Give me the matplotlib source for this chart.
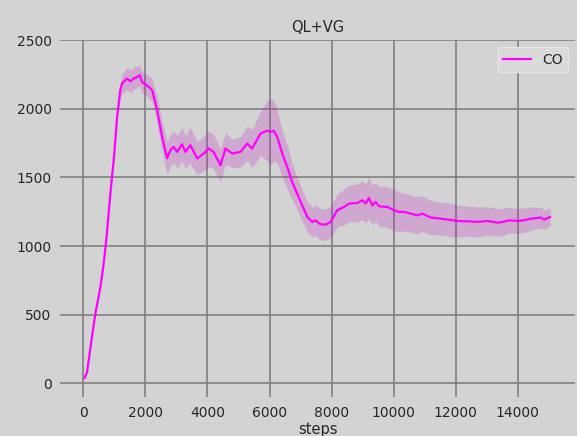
import numpy as np
import matplotlib
matplotlib.use('Agg')
import matplotlib.pyplot as plt

# mean curve and spread
steps = [40, 120, 280, 390, 550, 655, 760, 870, 980, 1090, 1190, 1250, 1410,
         1520, 1620, 1720, 1820, 1890, 2050, 2220, 2380, 2540, 2700, 2810,
         2910, 3020, 3180, 3290, 3450, 3670, 3880, 4040, 4200, 4420, 4580,
         4800, 5060, 5280, 5440, 5710, 5920, 6030, 6140, 6250, 6410, 6570,
         6730, 6890, 7050, 7220, 7380, 7480, 7640, 7810, 7970, 8180, 8400,
         8560, 8830, 8990, 9100, 9200, 9310, 9420, 9530, 9800, 10010, 10170,
         10330, 10550, 10760, 10920, 11190, 11520, 11840, 12050, 12380, 12700,
         13020, 13350, 13510, 13720, 13990, 14200, 14420, 14740, 14850, 15040]
co_mean = [40, 80, 340, 510, 700, 870, 1090, 1380, 1625, 1940, 2135, 2185, 2220,
           2200, 2220, 2230, 2245, 2195, 2170, 2135, 1990, 1795, 1640, 1700,
           1722, 1686, 1742, 1686, 1735, 1638, 1674, 1711, 1686, 1589, 1711,
           1674, 1686, 1747, 1711, 1820, 1840, 1832, 1839, 1795, 1674, 1577,
           1467, 1383, 1297, 1212, 1176, 1188, 1159, 1157, 1176, 1261, 1285,
           1310, 1314, 1334, 1310, 1351, 1297, 1322, 1290, 1285, 1261, 1249,
           1249, 1237, 1224, 1237, 1208, 1200, 1190, 1183, 1181, 1176,
           1183, 1171, 1176, 1188, 1183, 1188, 1200, 1208, 1193, 1212]
co_std = [5, 8, 10, 12, 15, 15, 20, 20, 25, 40, 60, 70, 80,
          80, 80, 80, 75, 80, 80, 85, 100, 110, 115, 115,
          115, 120, 125, 120, 130, 120, 125, 130, 125, 120, 115,
          105, 110, 125, 140, 160, 220, 240, 220, 190, 170, 160,
          130, 120, 115, 110, 110, 110, 115, 115, 115, 120, 130,
          135, 140, 140, 140, 150, 145, 140, 145, 150, 150, 145,
          140, 135, 135, 130, 125, 120, 120, 115, 110, 110,
          105, 100, 100, 95, 90, 90, 85, 75, 70, 65]

bg = '#d3d3d3'
plt.rcParams['font.family'] = 'DejaVu Sans'

fig = plt.figure(figsize=(5.77, 4.36), dpi=100, facecolor=bg)
ax = fig.add_axes([0.104, 0.089, 0.893, 0.819])
ax.set_facecolor(bg)

x = np.array(steps)
m = np.array(co_mean)
s = np.array(co_std)
ax.fill_between(x, m - s, m + s, color='m', alpha=0.2, linewidth=0)
ax.plot(x, m, color='magenta', linewidth=1.6, label='CO')

ax.set_xlim(-750, 15850)
ax.set_ylim(-100, 2500)
ax.set_xticks(np.arange(0, 15000, 2000))
ax.set_yticks(np.arange(0, 2501, 500))
ax.grid(True, color='#808080', linewidth=1.2)
ax.set_axisbelow(True)
for sp in ax.spines.values():
    sp.set_visible(False)
ax.tick_params(length=0, labelsize=10, labelcolor='#262626', pad=6)

ax.set_title('QL+VG', fontsize=10.5, color='#262626', pad=6)
ax.set_xlabel('steps', fontsize=10.5, color='#262626', labelpad=2)

leg = ax.legend(loc='upper right', fontsize=10, fancybox=True,
                facecolor='#dadada', edgecolor='#e4e4e4', framealpha=1)
for t in leg.get_texts():
    t.set_color('#262626')

fig.savefig('out.png', dpi=100, facecolor=bg)
